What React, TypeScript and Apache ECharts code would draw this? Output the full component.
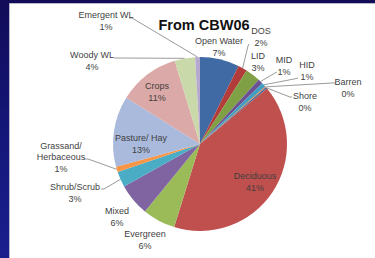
import React, { useEffect, useRef } from "react";
import * as echarts from "echarts";

const categories = [
  "Open Water", "DOS", "LID", "MID", "HID", "Barren", "Shore", "Deciduous",
  "Evergreen", "Mixed", "Shrub/Scrub", "Grassand/\nHerbaceous", "Pasture/ Hay",
  "Crops", "Woody WL", "Emergent WL",
];
const values = [7.3, 1.7, 2.8, 0.9, 0.8, 0.2, 0.3, 40.8, 6.1, 6.0, 2.9, 1.0, 13.1, 11.4, 3.8, 0.9];
const colors = [
  "#3f6aa3", "#b23c3a", "#7fa044", "#6b5193", "#3f9fc2", "#e8873a", "#3f6aa3", "#c0504d",
  "#9bbb59", "#8064a2", "#4bacc6", "#f79646", "#a9badc", "#dba9a7", "#cad9aa", "#b6a9cf",
];

// label layout (positions only, not data)
const labelPos: Record<number, { x: number; y: number; end?: [number, number]; knee?: [number, number] }> = {
  0: { x: 219, y: 47 },
  1: { x: 261, y: 37, end: [249, 44], knee: [248, 46] },
  2: { x: 258, y: 62 },
  3: { x: 284, y: 66, end: [277, 72], knee: [275, 73] },
  4: { x: 307, y: 71, end: [298, 78], knee: [294, 79] },
  5: { x: 348, y: 88, end: [336, 83], knee: [332, 83] },
  6: { x: 305, y: 102, end: [292, 97], knee: [290, 97] },
  7: { x: 255, y: 182 },
  8: { x: 145, y: 240 },
  9: { x: 117, y: 217 },
  10: { x: 75, y: 193, end: [101, 189], knee: [104, 189] },
  11: { x: 61, y: 157, end: [84, 159], knee: [88, 159] },
  12: { x: 141, y: 144 },
  13: { x: 157, y: 92 },
  14: { x: 92, y: 61, end: [114, 58], knee: [118, 58] },
  15: { x: 106, y: 21, end: [129, 18], knee: [132, 18] },
};

const CX = 200;
const CY = 144;
const R = 87;

export default function App() {
  const ref = useRef<HTMLDivElement>(null);
  useEffect(() => {
    if (!ref.current) return;
    const chart = echarts.init(ref.current, null, { renderer: "svg" });
    const total = values.reduce((a, b) => a + b, 0);
    const edgePoint = (i: number): [number, number] => {
      let cum = 0;
      for (let k = 0; k < i; k++) cum += values[k];
      const frac = (cum + values[i] / 2) / total;
      const a = Math.PI / 2 - frac * 2 * Math.PI;
      return [CX + R * Math.cos(a), CY - R * Math.sin(a)];
    };
    chart.setOption({
      animation: false,
      backgroundColor: "transparent",
      title: {
        text: "From CBW06",
        left: 199,
        top: 12,
        textAlign: "center",
        textStyle: { fontFamily: "Liberation Sans", fontWeight: "bold", fontSize: 14.5, color: "#111" },
      },
      graphic: [
        {
          type: "rect",
          z: -10,
          silent: true,
          shape: { x: 9.5, y: 3.5, width: 370, height: 260 },
          style: { fill: "#ffffff", stroke: "#b8b8c8", lineWidth: 1 },
        },
      ],
      series: [
        {
          type: "pie",
          center: [CX, CY],
          radius: R,
          startAngle: 90,
          clockwise: true,
          avoidLabelOverlap: false,
          minShowLabelAngle: 0,
          data: categories.map((name, i) => ({
            name,
            value: values[i],
            itemStyle: { color: colors[i] },
            labelLine: { show: !!labelPos[i].end },
          })),
          label: {
            show: true,
            position: "outside",
            fontFamily: "Liberation Sans",
            fontSize: 9,
            lineHeight: 11.5,
            color: "#3f3f3f",
            align: "center",
            formatter: (p: any) => `${p.name}\n${Math.round(p.value)}%`,
          },
          labelLine: {
            show: true,
            length: 5,
            length2: 5,
            lineStyle: { color: "#808080", width: 0.8 },
          },
          labelLayout: (p: any) => {
            const lp = labelPos[p.dataIndex];
            const res: any = { x: lp.x, y: lp.y, align: "center", verticalAlign: "middle" };
            if (lp.end && lp.knee) {
              res.labelLinePoints = [edgePoint(p.dataIndex), lp.knee, lp.end];
            }
            return res;
          },
        },
      ],
    });
    return () => chart.dispose();
  }, []);
  return (
    <div
      style={{
        position: "fixed",
        left: 0,
        top: 0,
        width: 375,
        height: 258,
        background: "linear-gradient(180deg, #120c58 0%, #141678 50%, #1a1f8e 100%)",
      }}
    >
      <div ref={ref} style={{ width: 375, height: 258 }} />
    </div>
  );
}
